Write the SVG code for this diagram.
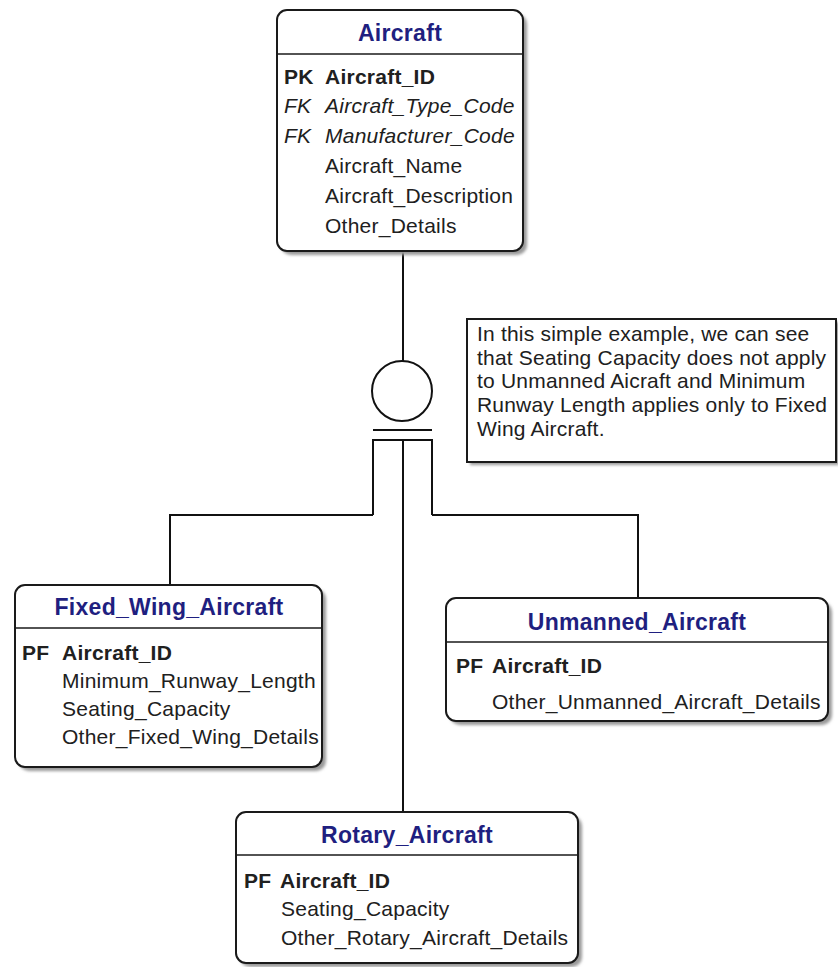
<svg xmlns="http://www.w3.org/2000/svg" width="838" height="967" viewBox="0 0 838 967">
<style>
.box{fill:#fff;stroke:#1a1a1a;stroke-width:2}
.shadow{fill:#9a9a9a}
.div{stroke:#1a1a1a;stroke-width:1.6}
.title{font-family:"Liberation Sans",Arial,sans-serif;font-size:23px;font-weight:bold;fill:#1f1f80;text-anchor:middle;letter-spacing:0.3px}
.t{font-family:"Liberation Sans",Arial,sans-serif;font-size:21px;fill:#202020;letter-spacing:0.25px}
.b{font-weight:bold}
.i{font-style:italic}
.conn{fill:none;stroke:#111;stroke-width:2}
.note{font-family:"Liberation Sans",Arial,sans-serif;font-size:21px;fill:#202020;letter-spacing:0.2px}
</style>
<defs>
<filter id="sh" x="-10%" y="-10%" width="130%" height="130%"><feGaussianBlur stdDeviation="1.5"/></filter>
</defs>
<rect width="838" height="967" fill="#fff"/>

<g id="connectors">
<line class="conn" x1="403" y1="252" x2="403" y2="361"/>
<circle class="conn" cx="402" cy="391" r="30"/>
<line class="conn" x1="373" y1="430" x2="432" y2="430"/>
<path class="conn" d="M373,515 V440 H432 V515"/>
<line class="conn" x1="403" y1="440" x2="403" y2="812"/>
<path class="conn" d="M373,515 H170 V585"/>
<path class="conn" d="M432,515 H638 V598"/>
</g>

<g id="aircraft">
<rect class="shadow" x="281" y="14" width="246" height="241" rx="10" filter="url(#sh)"/>
<rect class="box" x="277" y="10" width="246" height="241" rx="10"/>
<line class="div" x1="277" y1="54" x2="523" y2="54"/>
<text class="title" x="400" y="41">Aircraft</text>
<text class="t b" x="284" y="84">PK</text><text class="t b" x="325" y="84">Aircraft_ID</text>
<text class="t i" x="284" y="113">FK</text><text class="t i" x="325" y="113">Aircraft_Type_Code</text>
<text class="t i" x="284" y="143">FK</text><text class="t i" x="325" y="143">Manufacturer_Code</text>
<text class="t" x="325" y="173">Aircraft_Name</text>
<text class="t" x="325" y="203">Aircraft_Description</text>
<text class="t" x="325" y="233">Other_Details</text>
</g>

<g id="note">
<rect class="shadow" x="470" y="322" width="369" height="143" filter="url(#sh)"/>
<rect x="467" y="319" width="369" height="143" fill="#fff" stroke="#1a1a1a" stroke-width="2"/>
<text class="note" x="477" y="341">In this simple example, we can see</text>
<text class="note" x="477" y="365">that Seating Capacity does not apply</text>
<text class="note" x="477" y="388">to Unmanned Aicraft and Minimum</text>
<text class="note" x="477" y="412">Runway Length applies only to Fixed</text>
<text class="note" x="477" y="436">Wing Aircraft.</text>
</g>

<g id="fixed_wing_aircraft">
<rect class="shadow" x="19" y="589" width="307" height="182" rx="10" filter="url(#sh)"/>
<rect class="box" x="15" y="585" width="307" height="182" rx="10"/>
<line class="div" x1="15" y1="628" x2="322" y2="628"/>
<text class="title" x="169" y="615">Fixed_Wing_Aircraft</text>
<text class="t b" x="22" y="660">PF</text><text class="t b" x="62" y="660">Aircraft_ID</text>
<text class="t" x="62" y="688">Minimum_Runway_Length</text>
<text class="t" x="62" y="716">Seating_Capacity</text>
<text class="t" x="62" y="744">Other_Fixed_Wing_Details</text>
</g>

<g id="unmanned_aircraft">
<rect class="shadow" x="450" y="602" width="382" height="123" rx="10" filter="url(#sh)"/>
<rect class="box" x="446" y="598" width="382" height="123" rx="10"/>
<line class="div" x1="446" y1="642" x2="828" y2="642"/>
<text class="title" x="637" y="630">Unmanned_Aircraft</text>
<text class="t b" x="456" y="673">PF</text><text class="t b" x="492" y="673">Aircraft_ID</text>
<text class="t" x="492" y="709">Other_Unmanned_Aircraft_Details</text>
</g>

<g id="rotary_aircraft">
<rect class="shadow" x="240" y="816" width="342" height="151" rx="10" filter="url(#sh)"/>
<rect class="box" x="236" y="812" width="342" height="151" rx="10"/>
<line class="div" x1="236" y1="855" x2="578" y2="855"/>
<text class="title" x="407" y="843">Rotary_Aircraft</text>
<text class="t b" x="244" y="888">PF</text><text class="t b" x="280" y="888">Aircraft_ID</text>
<text class="t" x="281" y="916">Seating_Capacity</text>
<text class="t" x="281" y="945">Other_Rotary_Aircraft_Details</text>
</g>
</svg>
